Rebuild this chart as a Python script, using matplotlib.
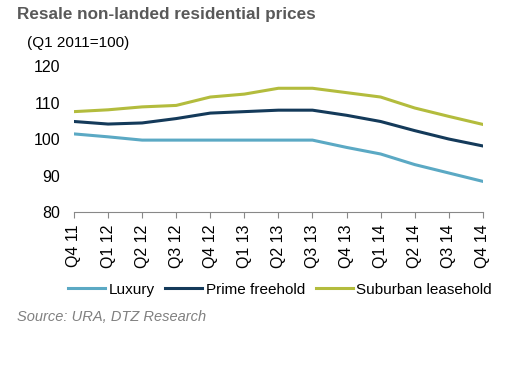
import matplotlib
matplotlib.use("Agg")
import matplotlib.pyplot as plt

plt.rcParams['font.family'] = ['Liberation Sans', 'DejaVu Sans']

# data
quarters = ['Q4 11', 'Q1 12', 'Q2 12', 'Q3 12', 'Q4 12', 'Q1 13', 'Q2 13',
            'Q3 13', 'Q4 13', 'Q1 14', 'Q2 14', 'Q3 14', 'Q4 14']
luxury = [101.4, 100.6, 99.7, 99.7, 99.7, 99.7, 99.7, 99.7, 97.7, 95.9, 93.0, 90.7, 88.4]
prime_freehold = [104.8, 104.1, 104.4, 105.6, 107.1, 107.5, 107.9, 107.9, 106.5, 104.8, 102.3, 100.0, 98.1]
suburban_leasehold = [107.5, 108.0, 108.8, 109.2, 111.5, 112.3, 113.9, 113.9, 112.7, 111.5, 108.5, 106.2, 104.0]

fig = plt.figure(figsize=(5.12, 3.72), dpi=100)
ax = fig.add_axes([0.1445, 0.430, 0.7985, 0.3926])

x = range(len(quarters))
ax.plot(x, luxury, color='#5BA9C4', linewidth=2.2, label='Luxury')
ax.plot(x, prime_freehold, color='#143A5A', linewidth=2.2, label='Prime freehold')
ax.plot(x, suburban_leasehold, color='#B3BC3D', linewidth=2.2, label='Suburban leasehold')

ax.set_xlim(0, len(quarters) - 1)
ax.set_ylim(80, 120)
ax.set_yticks([80, 90, 100, 110, 120])
ax.set_xticks(list(x))
ax.set_xticklabels(quarters, rotation=90, fontsize=11.5)
ax.tick_params(axis='y', length=0, labelsize=11.5, pad=10)
ax.tick_params(axis='x', length=4, color='#888888', pad=5)

for side in ['top', 'right', 'left']:
    ax.spines[side].set_visible(False)
ax.spines['bottom'].set_color('#888888')

fig.text(0.033, 0.962, 'Resale non-landed residential prices', fontsize=12.3,
         fontweight='bold', color='#595959', va='center')
fig.text(0.053, 0.884, '(Q1 2011=100)', fontsize=11, va='center')

fig.legend(loc='center', bbox_to_anchor=(0.547, 0.221), ncol=3, frameon=False,
           fontsize=11, handlelength=2.4, handletextpad=0.25, columnspacing=0.7,
           borderaxespad=0)

fig.text(0.033, 0.148, 'Source: URA, DTZ Research', fontsize=10.5, style='italic',
         color='#808080', va='center')

fig.savefig('out.png', dpi=100)
